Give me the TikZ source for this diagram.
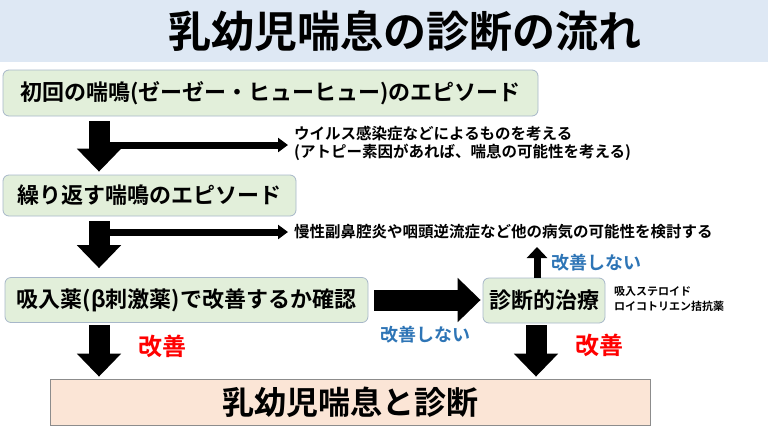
\documentclass[tikz,border=0pt]{standalone}
\usepackage{fontspec}
\setmainfont{Noto Sans CJK JP}[BoldFont={Noto Sans CJK JP Bold}]
\usepackage{tikz}
\usetikzlibrary{arrows.meta}
\definecolor{titleblue}{HTML}{DEE8F4}
\definecolor{boxgreen}{HTML}{E2EFDA}
\definecolor{boxedge}{HTML}{A7B7C9}
\definecolor{resultpink}{HTML}{FBE5D6}
\definecolor{resultedge}{HTML}{8C8C8C}
\definecolor{notbetter}{HTML}{2E75B6}
\definecolor{better}{HTML}{FF0000}

\begin{document}
\begin{tikzpicture}[x=1pt, y=-1pt,
    stepbox/.style={draw=boxedge, fill=boxgreen, rounded corners=6pt, line width=0.8pt,
        inner sep=0pt, font=\bfseries\fontsize{22}{26}\selectfont},
    sidetext/.style={anchor=west, align=left, inner sep=0pt, font=\bfseries\fontsize{15.5}{17.5}\selectfont},
    bigarrow/.style={line width=21pt, -{Triangle[width=43pt,length=23pt]}},
    sidearrow/.style={line width=7pt, -{Triangle[width=14pt,length=10pt]}},
    uparrow/.style={line width=7pt, -{Triangle[width=20pt,length=11pt]}},
    nglabel/.style={text=notbetter, inner sep=0pt, font=\bfseries\fontsize{18}{20}\selectfont},
    oklabel/.style={text=better, inner sep=0pt, font=\bfseries\fontsize{24}{26}\selectfont}]

    \useasboundingbox (0,0) rectangle (768,432);

    % title band
    \fill[titleblue] (0,0) rectangle (768,62);
    \node[font=\bfseries\fontsize{43}{46}\selectfont] (title) at (405,31) {乳幼児喘息の診断の流れ};

    % flow boxes
    \node[stepbox, minimum width=535pt, minimum height=46pt] (first) at (270.5,93) {初回の喘鳴(ゼーゼー・ヒューヒュー)のエピソード};
    \node[stepbox, minimum width=293pt, minimum height=41pt] (repeat) at (149.5,195.5) {繰り返す喘鳴のエピソード};
    \node[stepbox, minimum width=363pt, minimum height=45pt] (inhal) at (186.5,300) {吸入薬(β刺激薬)で改善するか確認};
    \node[stepbox, minimum width=122pt, minimum height=45pt] (treat) at (544,300.5) {診断的治療};
    \node[draw=resultedge, fill=resultpink, line width=0.8pt, minimum width=600pt, minimum height=46pt,
        font=\bfseries\fontsize{32}{34}\selectfont] (result) at (350,402) {乳幼児喘息と診断};

    % side notes
    \node[sidetext] (virus) at (294,143.5) {ウイルス感染症などによるものを考える\\(アトピー素因があれば、喘息の可能性を考える)};
    \node[sidetext] (other) at (294,232) {慢性副鼻腔炎や咽頭逆流症など他の病気の可能性を検討する};
    \node[sidetext, font=\bfseries\fontsize{11}{15}\selectfont] (drugs) at (614,299.5) {吸入ステロイド\\ロイコトリエン拮抗薬};

    % labels
    \node[nglabel] (ng1) at (425,335) {改善しない};
    \node[nglabel, anchor=west] (ng2) at (551,263) {改善しない};
    \node[oklabel] (ok1) at (162,346) {改善};
    \node[oklabel] (ok2) at (599,345) {改善};

    % arrows
    \coordinate (colL) at (99,0);
    \coordinate (colR) at (536,0);
    \coordinate (br1) at (100,145);
    \coordinate (br2) at (100,232);
    \coordinate (up) at (537,247);

    \draw[bigarrow, shorten <=5pt, shorten >=3pt] (first.south -| colL) -- (repeat.north -| colL);
    \draw[sidearrow, shorten >=6pt] (br1) -- (br1 -| virus.west);
    \draw[bigarrow, shorten <=5pt, shorten >=9pt] (repeat.south -| colL) -- (inhal.north -| colL);
    \draw[sidearrow, shorten >=6pt] (br2) -- (br2 -| other.west);
    \draw[bigarrow, shorten <=2pt, shorten >=2pt] (inhal.south -| colL) -- (result.north -| colL);
    \draw[bigarrow, shorten <=6pt, shorten >=2pt] (inhal.east) -- (inhal.east -| treat.west);
    \draw[uparrow] (treat.north -| up) -- (up);
    \draw[bigarrow, shorten <=2pt, shorten >=2pt] (treat.south -| colR) -- (result.north -| colR);

\end{tikzpicture}
\end{document}
